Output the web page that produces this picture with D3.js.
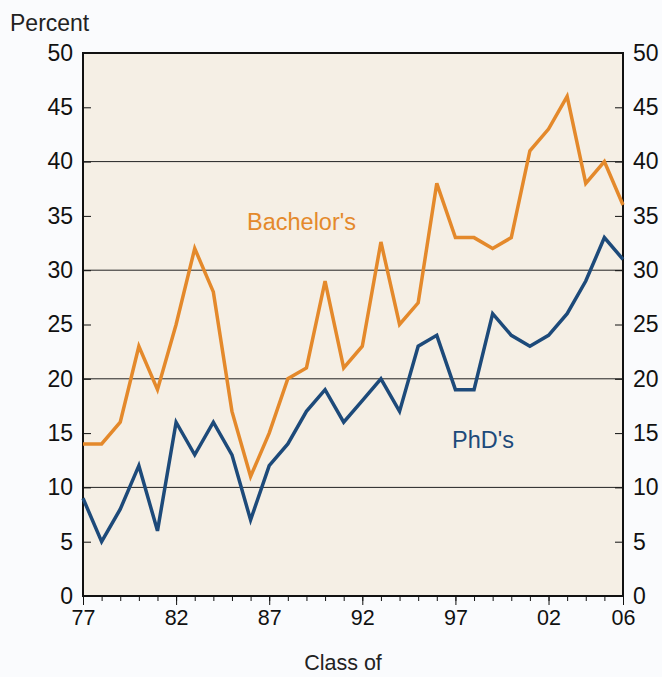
<!DOCTYPE html>
<html lang="en">
<head>
<meta charset="utf-8"/>
<title>Class of</title>
<script src="https://d3js.org/d3.v7.min.js"></script>
<style>
	body { margin: 0; background: #fafbfd; }
	svg { display: block; font-family: "Liberation Sans", Arial, sans-serif; }
	.axis .domain { display: none; }
	.axis text { fill: #111; }
	.yaxis text { font-size: 23px; }
	.xaxis text { font-size: 21.5px; }
</style>
</head>
<body>
<svg id="chart" width="662" height="677"></svg>
<script>
// data
var years = d3.range(1977, 2007);
var bachelors = [14, 14, 16, 23, 19, 25, 32, 28, 17, 11, 15, 20, 21, 29, 21, 23, 32.6, 25, 27, 38, 33, 33, 32, 33, 41, 43, 46, 38, 40, 36];
var phds = [9, 5, 8, 12, 6, 16, 13, 16, 13, 7, 12, 14, 17, 19, 16, 18, 20, 17, 23, 24, 19, 19, 26, 24, 23, 24, 26, 29, 33, 31];
var xLabelYears = [1977, 1982, 1987, 1992, 1997, 2002, 2006];
var yTicks = [0, 5, 10, 15, 20, 25, 30, 35, 40, 45, 50];
var gridVals = [10, 20, 30, 40];

var svg = d3.select("#chart");
var plot = {left: 83, right: 623, top: 53, bottom: 596};

var x = d3.scaleLinear().domain([1977, 2006]).range([plot.left, plot.right]);
var y = d3.scaleLinear().domain([0, 50]).range([plot.bottom, plot.top]);

// plot background
svg.append("rect")
	.attr("x", plot.left).attr("y", plot.top)
	.attr("width", plot.right - plot.left).attr("height", plot.bottom - plot.top)
	.attr("fill", "#f5efe5");

// gridlines
svg.append("g").selectAll("line")
	.data(gridVals)
	.enter().append("line")
	.attr("x1", plot.left).attr("x2", plot.right)
	.attr("y1", function(d) { return y(d); })
	.attr("y2", function(d) { return y(d); })
	.attr("stroke", "#222").attr("stroke-width", 1);

// y axis left (ticks inward)
var yl = svg.append("g")
	.attr("class", "axis yaxis")
	.attr("transform", "translate(" + plot.left + ",0)")
	.call(d3.axisRight(y).tickValues(yTicks).tickSize(8).tickFormat(d3.format("d")));
yl.selectAll("text").attr("x", -10).attr("text-anchor", "end");
yl.selectAll("line").attr("stroke", "#111");

// y axis right (ticks inward)
var yr = svg.append("g")
	.attr("class", "axis yaxis")
	.attr("transform", "translate(" + plot.right + ",0)")
	.call(d3.axisLeft(y).tickValues(yTicks).tickSize(8).tickFormat(d3.format("d")));
yr.selectAll("text").attr("x", 10).attr("text-anchor", "start");
yr.selectAll("line").attr("stroke", "#111");

// x axis minor ticks
svg.append("g")
	.attr("class", "axis")
	.attr("transform", "translate(0," + plot.bottom + ")")
	.call(d3.axisBottom(x).tickValues(years).tickSize(5).tickFormat(""))
	.selectAll("line").attr("stroke", "#111");

// x axis major ticks + labels
var xa = svg.append("g")
	.attr("class", "axis xaxis")
	.attr("transform", "translate(0," + plot.bottom + ")")
	.call(d3.axisBottom(x).tickValues(xLabelYears).tickSize(9).tickPadding(5)
		.tickFormat(function(d) { return String(d).slice(2); }));
xa.selectAll("line").attr("stroke", "#111");

// frame
svg.append("rect")
	.attr("x", plot.left).attr("y", plot.top)
	.attr("width", plot.right - plot.left).attr("height", plot.bottom - plot.top)
	.attr("fill", "none").attr("stroke", "#111").attr("stroke-width", 2);

// lines
var line = d3.line()
	.x(function(d, i) { return x(years[i]); })
	.y(function(d) { return y(d); });

svg.append("path")
	.datum(bachelors)
	.attr("d", line)
	.attr("fill", "none")
	.attr("stroke", "#e4892b")
	.attr("stroke-width", 3.5);

svg.append("path")
	.datum(phds)
	.attr("d", line)
	.attr("fill", "none")
	.attr("stroke", "#1d4a7a")
	.attr("stroke-width", 3.5);

// labels
svg.append("text")
	.attr("x", 247).attr("y", 230)
	.attr("font-size", 23.5).attr("fill", "#e4892b")
	.text("Bachelor's");

svg.append("text")
	.attr("x", 452).attr("y", 448)
	.attr("font-size", 23.5).attr("fill", "#1d4a7a")
	.text("PhD's");

svg.append("text")
	.attr("x", 10).attr("y", 31)
	.attr("font-size", 23).attr("fill", "#222")
	.text("Percent");

svg.append("text")
	.attr("x", 343).attr("y", 670)
	.attr("font-size", 21.5).attr("fill", "#222")
	.attr("text-anchor", "middle")
	.text("Class of");
</script>
</body>
</html>
